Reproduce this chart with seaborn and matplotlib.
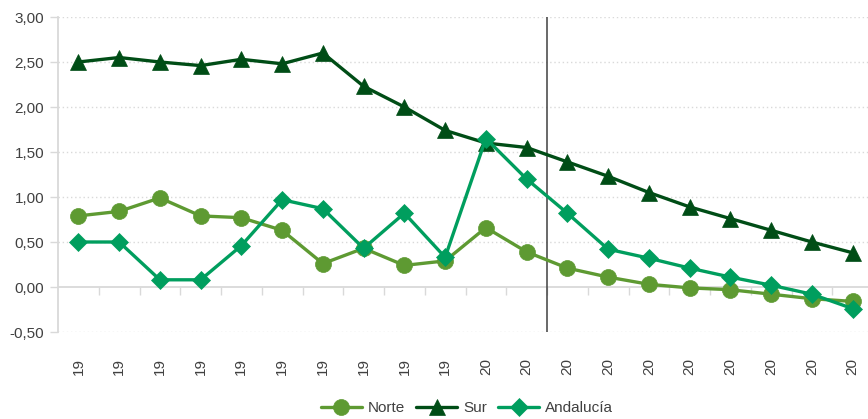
import numpy as np
import pandas as pd
import matplotlib
matplotlib.use("Agg")
import matplotlib.pyplot as plt
import seaborn as sns

# Series values, one per period
periods = ["19"] * 10 + ["20"] * 10
norte = [0.79, 0.84, 0.99, 0.79, 0.77, 0.63, 0.26, 0.43, 0.24, 0.29,
         0.66, 0.39, 0.21, 0.11, 0.03, -0.01, -0.03, -0.08, -0.13, -0.16]
sur = [2.50, 2.55, 2.50, 2.46, 2.53, 2.48, 2.60, 2.23, 2.00, 1.74,
       1.60, 1.55, 1.39, 1.23, 1.05, 0.89, 0.76, 0.63, 0.50, 0.38]
andalucia = [0.50, 0.50, 0.08, 0.08, 0.46, 0.97, 0.87, 0.43, 0.82, 0.33,
             1.65, 1.20, 0.82, 0.42, 0.32, 0.21, 0.11, 0.02, -0.08, -0.24]
series_names = ["Norte", "Sur", "Andalucía"]
y_ticks = [-0.5, 0.0, 0.5, 1.0, 1.5, 2.0, 2.5, 3.0]
split_position = 11.5

sns.set_theme(style="white")
plt.rcParams["font.family"] = ["Liberation Sans", "DejaVu Sans"]

colors = {"Norte": "#5e9a32", "Sur": "#004d16", "Andalucía": "#009e5e"}
markers = {"Norte": "o", "Sur": "^", "Andalucía": "D"}
msizes = {"Norte": 11.5, "Sur": 12, "Andalucía": 9.5}

x = np.arange(len(periods))
df = pd.DataFrame({"x": np.tile(x, 3),
                   "valor": norte + sur + andalucia,
                   "serie": np.repeat(series_names, len(periods))})

fig = plt.figure(figsize=(8.68, 4.19), dpi=100)
ax = fig.add_axes([58 / 868, 1 - 332 / 419, 815 / 868, 315 / 419])

grid_c = "#d9d9d9"
text_c = "#404040"
fs = 11

# dotted horizontal grid
for yv in y_ticks:
    if yv != 0:
        ax.axhline(yv, color=grid_c, lw=1, ls=(0, (1, 2)), zorder=0)
ax.axhline(0, color=grid_c, lw=1.3, zorder=1)
ax.axvline(split_position, color="#404040", lw=1.1, zorder=2)

for i, name in enumerate(series_names):
    sub = df[df["serie"] == name]
    sns.lineplot(data=sub, x="x", y="valor", ax=ax, color=colors[name],
                 marker=markers[name], markersize=msizes[name],
                 markeredgecolor=colors[name], markeredgewidth=0.5,
                 linewidth=2.4, label=name, zorder=3 + i)

ax.set_xlim(-0.5, len(periods) - 0.5)
ax.set_ylim(-0.5, 3.0)
ax.set_yticks(y_ticks)
ax.set_yticklabels([f"{v:.2f}".replace(".", ",") for v in y_ticks],
                   fontsize=fs, color=text_c)
ax.set_xticks(x)
ax.set_xticklabels(periods, rotation=90, fontsize=fs, color=text_c)
ax.tick_params(axis="x", length=0, pad=19)
ax.tick_params(axis="y", length=6, width=1, color=grid_c, pad=4, left=True)
ax.set_xlabel("")
ax.set_ylabel("")

for side in ["top", "right", "bottom"]:
    ax.spines[side].set_visible(False)
ax.spines["left"].set_color(grid_c)
ax.spines["left"].set_linewidth(1.3)

# category boundary tick marks hanging from the zero line
sec = ax.secondary_xaxis(0.5 / 3.5)
sec.set_xticks(np.arange(0.5, len(periods) - 0.5, 1.0))
sec.set_xticklabels([])
sec.tick_params(axis="x", length=6, width=1, color=grid_c, direction="out")
sec.spines["bottom"].set_visible(False)

ax.legend(loc="center", bbox_to_anchor=(467 / 868, 1 - 408 / 419),
          bbox_transform=fig.transFigure, ncol=3, frameon=False,
          fontsize=fs, handlelength=2.7, columnspacing=0.7,
          handletextpad=0.4, labelcolor=text_c)

fig.savefig("out.png", dpi=100)
